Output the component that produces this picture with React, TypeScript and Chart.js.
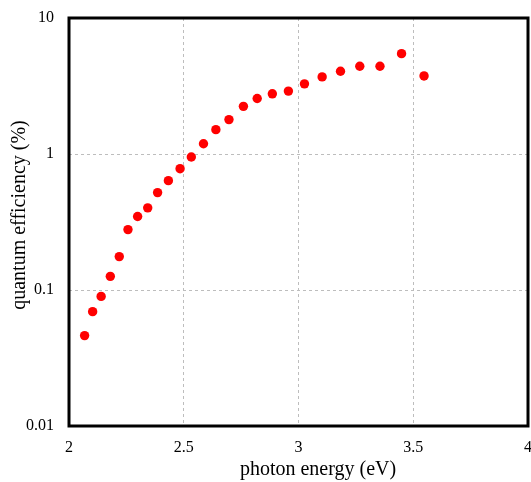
import React, { useEffect, useRef } from "react";
import { Chart, registerables } from "chart.js";

Chart.register(...registerables);

const energy: number[] = [
  2.068, 2.103, 2.14, 2.18, 2.219, 2.257, 2.299, 2.343, 2.386, 2.433, 2.484, 2.533, 2.586,
  2.64, 2.697, 2.76, 2.82, 2.886, 2.956, 3.026, 3.103, 3.183, 3.267, 3.355, 3.449, 3.547,
];
const efficiency: number[] = [
  0.0462, 0.0693, 0.0897, 0.126, 0.176, 0.278, 0.347, 0.402, 0.52, 0.637, 0.78, 0.951, 1.19,
  1.51, 1.79, 2.24, 2.56, 2.77, 2.9, 3.28, 3.69, 4.06, 4.42, 4.42, 5.47, 3.75,
];
const yTicks: number[] = [0.01, 0.1, 1, 10];
const yTickLabels: string[] = ["0.01", "0.1", "1", "10"];
const xTicks: number[] = [2, 2.5, 3, 3.5, 4];
const xTickLabels: string[] = ["2", "2.5", "3", "3.5", "4"];
const xTitle = "photon energy (eV)";
const yTitle = "quantum efficiency (%)";

const FONT = "'Liberation Serif', 'Times New Roman', serif";

const framePlugin = {
  id: "frame",
  afterDraw(chart: any) {
    const { ctx, chartArea, scales } = chart;
    ctx.save();
    ctx.strokeStyle = "#000";
    ctx.lineWidth = 3;
    ctx.strokeRect(chartArea.left, chartArea.top, chartArea.right - chartArea.left, chartArea.bottom - chartArea.top);
    ctx.fillStyle = "#000";
    // tick labels
    ctx.font = `16px ${FONT}`;
    ctx.textBaseline = "middle";
    ctx.textAlign = "right";
    yTicks.forEach((v, i) => {
      ctx.fillText(yTickLabels[i], chartArea.left - 15, scales.y.getPixelForValue(v));
    });
    ctx.textAlign = "center";
    xTicks.forEach((v, i) => {
      ctx.fillText(xTickLabels[i], scales.x.getPixelForValue(v), chartArea.bottom + 22);
    });
    // titles
    ctx.font = `20px ${FONT}`;
    ctx.fillText(xTitle, 318, 470);
    ctx.translate(20, 215);
    ctx.rotate(-Math.PI / 2);
    ctx.fillText(yTitle, 0, 0);
    ctx.restore();
  },
};

export default function App() {
  const ref = useRef<HTMLCanvasElement>(null);
  useEffect(() => {
    if (!ref.current) return;
    const chart = new Chart(ref.current, {
      type: "scatter",
      data: {
        datasets: [
          {
            data: energy.map((x, i) => ({ x, y: efficiency[i] })),
            backgroundColor: "#ff0000",
            borderWidth: 0,
            pointRadius: 4.7,
          },
        ],
      },
      options: {
        animation: false,
        responsive: false,
        layout: { autoPadding: false, padding: { top: 18, right: 3, left: 0, bottom: 0 } },
        plugins: { legend: { display: false }, tooltip: { enabled: false } },
        scales: {
          x: {
            type: "linear",
            min: 2,
            max: 4,
            afterBuildTicks: (s: any) => {
              s.ticks = xTicks.map((v) => ({ value: v }));
            },
            afterFit: (s: any) => {
              s.height = 56;
            },
            border: { display: false, dash: [3, 3] },
            grid: {
              color: (c: any) => (c.tick && (c.tick.value === 2 || c.tick.value === 4) ? "rgba(0,0,0,0)" : "#bdbdbd"),
              lineWidth: 1,
              drawTicks: false,
            },
            ticks: { display: false },
          },
          y: {
            type: "logarithmic",
            min: 0.01,
            max: 10,
            afterBuildTicks: (s: any) => {
              s.ticks = yTicks.map((v) => ({ value: v }));
            },
            afterFit: (s: any) => {
              s.width = 69;
            },
            border: { display: false, dash: [3, 3] },
            grid: {
              color: (c: any) => (c.tick && (c.tick.value === 0.01 || c.tick.value === 10) ? "rgba(0,0,0,0)" : "#bdbdbd"),
              lineWidth: 1,
              drawTicks: false,
            },
            ticks: { display: false },
          },
        },
      },
      plugins: [framePlugin],
    } as any);
    return () => chart.destroy();
  }, []);
  return (
    <div style={{ position: "fixed", left: 0, top: 0, width: 531, height: 482, background: "#fff" }}>
      <canvas ref={ref} width={531} height={482} style={{ width: 531, height: 482 }} />
    </div>
  );
}
